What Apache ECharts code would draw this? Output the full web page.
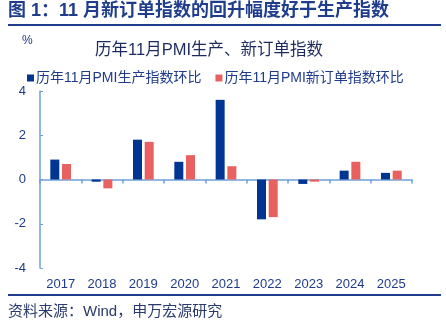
<!DOCTYPE html>
<html><head><meta charset="utf-8">
<script src="https://cdn.jsdelivr.net/npm/echarts@6/dist/echarts.min.js"></script>
<style>html,body{margin:0;padding:0;background:#fff}#c{width:446px;height:325px}</style>
</head><body><div id="c"></div>
<script>
const categories = ['2017','2018','2019','2020','2021','2022','2023','2024','2025'];
const productionMoM = [0.9, -0.1, 1.8, 0.8, 3.6, -1.8, -0.2, 0.4, 0.3];
const newOrderMoM = [0.7, -0.4, 1.7, 1.1, 0.6, -1.7, -0.1, 0.8, 0.4];
const yTicks = [-4, -2, 0, 2, 4];
const seriesNames = ['历年11月PMI生产指数环比', '历年11月PMI新订单指数环比'];

const chart = echarts.init(document.getElementById('c'), null, {renderer: 'canvas'});
const font = '"Liberation Sans", "Noto Sans CJK SC", sans-serif';
const navy = '#1f3a8a';
chart.setOption({
  animation: false,
  textStyle: {fontFamily: font},
  title: {
    text: '历年11月PMI生产、新订单指数',
    left: 90, top: 37,
    textStyle: {fontSize: 16.5, fontWeight: 'normal', color: '#1c2a5e', fontFamily: font}
  },
  graphic: [
    {type: 'text', left: 8, top: 2, style: {text: '图 1：11 月新订单指数的回升幅度好于生产指数', font: 'bold 18px ' + font, fill: '#1f3d8c'}},
    {type: 'rect', shape: {x: 8, y: 24, width: 433, height: 2}, style: {fill: '#1f3d8c'}},
    {type: 'text', left: 22, top: 35, style: {text: '%', font: '12px ' + font, fill: navy}},
    {type: 'rect', shape: {x: 8, y: 294, width: 433, height: 2}, style: {fill: '#1f3d8c'}},
    {type: 'text', left: 8, top: 304, style: {text: '资料来源：Wind，申万宏源研究', font: '15px ' + font, fill: '#2a3a6a'}}
  ],
  legend: {
    top: 66, left: 22,
    itemWidth: 7, itemHeight: 7, itemGap: 14,
    icon: 'rect',
    textStyle: {fontSize: 14, color: navy, padding: [0, 0, 0, -3]},
    data: seriesNames
  },
  grid: {left: 40, right: 34, top: 91, bottom: 57},
  xAxis: [
    {type: 'category', data: categories,
     axisLine: {onZero: true, lineStyle: {color: '#6fa0d8', width: 1.5}},
     axisTick: {show: true, length: 4, lineStyle: {color: '#6fa0d8', width: 1.5}},
     axisLabel: {show: false}},
    {type: 'category', data: categories, position: 'bottom',
     axisLine: {show: false, onZero: false}, axisTick: {show: false},
     axisLabel: {show: true, margin: 10, fontSize: 13, color: navy}}
  ],
  yAxis: {
    type: 'value', min: -4, max: 4, interval: 2,
    axisLine: {show: true, lineStyle: {color: '#6fa0d8', width: 1.5}},
    axisTick: {show: true, inside: true, length: 3, lineStyle: {color: '#6fa0d8'}},
    splitLine: {show: false},
    axisLabel: {fontSize: 13, color: navy, margin: 14, formatter: v => yTicks.includes(v) ? String(v) : ''}
  },
  series: [
    {name: seriesNames[0], type: 'bar', xAxisIndex: 0, data: productionMoM, barWidth: 9, barGap: '30%',
     itemStyle: {color: '#003591'}},
    {name: seriesNames[1], type: 'bar', xAxisIndex: 0, data: newOrderMoM, barWidth: 9,
     itemStyle: {color: '#e86060'}}
  ]
});
</script></body></html>
